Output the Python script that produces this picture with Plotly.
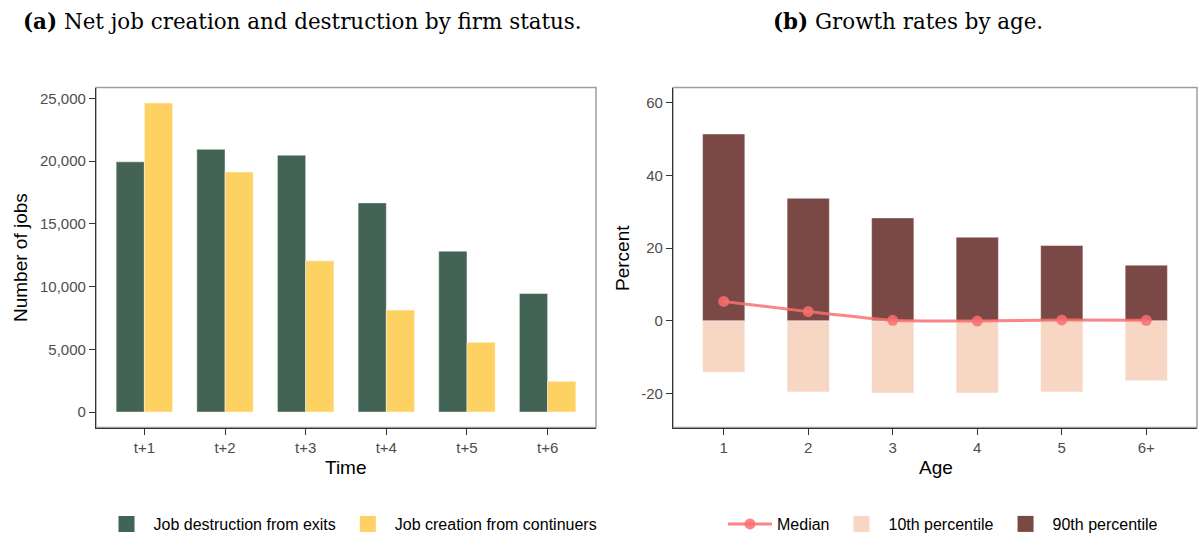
import plotly.graph_objects as go

# ---------- data ----------
time_cats = ["t+1", "t+2", "t+3", "t+4", "t+5", "t+6"]
destruction_exits = [19950, 20950, 20480, 16680, 12830, 9450]
creation_continuers = [24650, 19150, 12060, 8130, 5560, 2450]

age_cats = ["1", "2", "3", "4", "5", "6+"]
p90 = [51.4, 33.7, 28.3, 23.0, 20.7, 15.3]
p10 = [-14.2, -19.6, -19.9, -19.9, -19.6, -16.5]
median = [5.3, 2.5, 0.1, -0.1, 0.2, 0.1]

left_ytick_vals = [0, 5000, 10000, 15000, 20000, 25000]
right_ytick_vals = [-20, 0, 20, 40, 60]
right_ytick_text = ["-20", "0", "20", "40", "60"]

# ---------- colours ----------
C_GREEN = "#436354"
C_YELLOW = "#FDD262"
C_MAROON = "#7A4845"
C_PEACH = "#F7D6C3"
C_MEDIAN = "rgba(250,110,112,0.85)"
EDGE = "rgba(255,255,255,0.45)"

W, H = 1198, 536
def px_x(p): return p / W
def px_y(p): return 1 - p / H

fig = go.Figure()

xi = list(range(len(time_cats)))
ai = list(range(len(age_cats)))

fig.add_trace(go.Bar(
    x=xi, y=destruction_exits, name="Job destruction from exits",
    marker=dict(color=C_GREEN, line=dict(color=EDGE, width=1)),
    width=0.35, offset=-0.35, xaxis="x", yaxis="y", showlegend=False,
))
fig.add_trace(go.Bar(
    x=xi, y=creation_continuers, name="Job creation from continuers",
    marker=dict(color=C_YELLOW, line=dict(color=EDGE, width=1)),
    width=0.35, offset=0.0, xaxis="x", yaxis="y", showlegend=False,
))
fig.add_trace(go.Bar(
    x=ai, y=p10, name="10th percentile",
    marker=dict(color=C_PEACH, line=dict(color=EDGE, width=1)),
    width=0.5, xaxis="x2", yaxis="y2", showlegend=False,
))
fig.add_trace(go.Bar(
    x=ai, y=p90, name="90th percentile",
    marker=dict(color=C_MAROON, line=dict(color=EDGE, width=1)),
    width=0.5, xaxis="x2", yaxis="y2", showlegend=False,
))
fig.add_trace(go.Scatter(
    x=ai, y=median, name="Median", mode="lines+markers",
    line=dict(color=C_MEDIAN, width=3, shape="spline", smoothing=0.6),
    marker=dict(color=C_MEDIAN, size=11),
    xaxis="x2", yaxis="y2", legend="legend2", legendrank=1,
))

# legend keys (square swatches) for the bar series
def key(name, color, axes, legend, rank):
    return go.Scatter(
        x=[None], y=[None], name=name, mode="markers",
        marker=dict(symbol="square", size=16, color=color),
        xaxis=axes[0], yaxis=axes[1], legend=legend, legendrank=rank,
    )
fig.add_trace(key("Job destruction from exits", C_GREEN, ("x", "y"), "legend", 1))
fig.add_trace(key("Job creation from continuers", C_YELLOW, ("x", "y"), "legend", 2))
fig.add_trace(key("10th percentile", C_PEACH, ("x2", "y2"), "legend2", 2))
fig.add_trace(key("90th percentile", C_MAROON, ("x2", "y2"), "legend2", 3))

tickfont = dict(family="Liberation Sans, Arial, sans-serif", size=15, color="#4D4D4D")
axis_common = dict(
    showgrid=False, zeroline=False, showline=True, linecolor="#333333", linewidth=1.3,
    mirror=False, ticks="outside", ticklen=6, tickcolor="#333333", tickwidth=1.3,
    tickfont=tickfont, automargin=False,
)
ydom = [px_y(427.5), px_y(87.5)]

fig.update_layout(
    width=W, height=H,
    margin=dict(l=0, r=0, t=0, b=0, autoexpand=False),
    paper_bgcolor="white", plot_bgcolor="white",
    barmode="overlay",
    font=dict(family="Liberation Sans, Arial, sans-serif", size=15, color="black"),
    xaxis=dict(domain=[px_x(96), px_x(596)], range=[-0.6, 5.6],
               tickvals=xi, ticktext=time_cats, anchor="y", **axis_common),
    yaxis=dict(domain=ydom, range=[-1230, 25880], tickvals=left_ytick_vals,
               tickformat=",", anchor="x", **axis_common),
    xaxis2=dict(domain=[px_x(673), px_x(1197)], range=[-0.6, 5.6],
                tickvals=ai, ticktext=age_cats, anchor="y2", **axis_common),
    yaxis2=dict(domain=ydom, range=[-29.4, 64.2], tickvals=right_ytick_vals,
                ticktext=right_ytick_text, anchor="x2", **axis_common),
    legend=dict(orientation="h", x=px_x(351), xanchor="center", y=px_y(524), yanchor="middle",
                font=dict(size=16, color="black"), itemwidth=44, traceorder="normal",
                bgcolor="rgba(0,0,0,0)"),
    legend2=dict(orientation="h", x=px_x(943), xanchor="center", y=px_y(524), yanchor="middle",
                 font=dict(size=16, color="black"), itemwidth=44, traceorder="normal",
                 bgcolor="rgba(0,0,0,0)"),
    showlegend=True,
)

# light-grey panel borders (top/right), as in the reference
for xr, yr in (("x domain", "y domain"), ("x2 domain", "y2 domain")):
    fig.add_shape(type="rect", xref=xr, yref=yr, x0=0, x1=1, y0=0, y1=1,
                  line=dict(color="#9E9E9E", width=1.5), fillcolor="rgba(0,0,0,0)",
                  layer="below")

serif = "DejaVu Serif, Liberation Serif, serif"
annos = [
    dict(text="<b>(a)</b> Net job creation and destruction by firm status.",
         x=px_x(302), y=px_y(22), font=dict(family=serif, size=21.4, color="black")),
    dict(text="<b>(b)</b> Growth rates by age.",
         x=px_x(908), y=px_y(22), font=dict(family=serif, size=21.4, color="black")),
    dict(text="Time", x=px_x(346), y=px_y(467), font=dict(size=19, color="black")),
    dict(text="Age", x=px_x(936), y=px_y(467), font=dict(size=19, color="black")),
    dict(text="Number of jobs", x=px_x(20), y=px_y(258), textangle=-90,
         font=dict(size=19, color="black")),
    dict(text="Percent", x=px_x(622), y=px_y(258), textangle=-90,
         font=dict(size=19, color="black")),
]
for a in annos:
    a.update(xref="paper", yref="paper", xanchor="center", yanchor="middle", showarrow=False)
fig.update_layout(annotations=annos)

fig.write_html("out.html", config={"displayModeBar": False},
               post_script="document.body.style.margin='0';document.body.style.padding='0';")
